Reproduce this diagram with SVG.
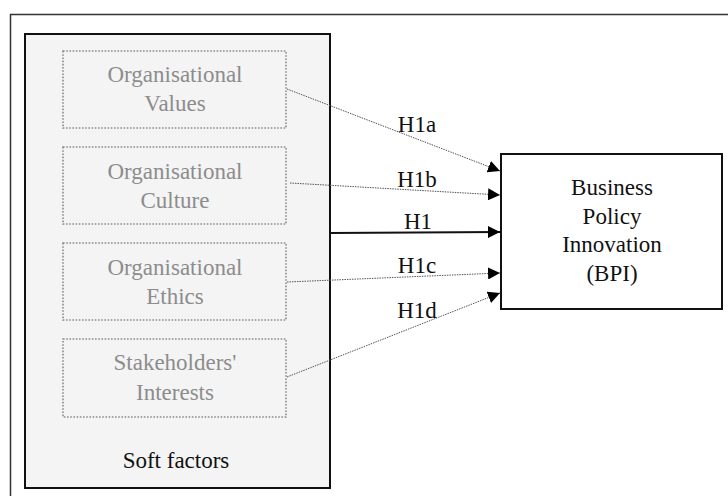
<svg xmlns="http://www.w3.org/2000/svg" width="728" height="496" viewBox="0 0 728 496">
<defs>
<style>
.dot{fill:none;stroke:#8a8a8a;stroke-width:1.6;stroke-dasharray:1.6,1.6}
.con{fill:none;stroke:#555;stroke-width:1;stroke-dasharray:1.5,1}
</style>
<marker id="ah" viewBox="0 0 10 10" refX="10" refY="5" markerWidth="12" markerHeight="12" markerUnits="userSpaceOnUse" orient="auto">
<path d="M0,0 L10,5 L0,10 z" fill="#000"/>
</marker>
</defs>
<rect width="728" height="496" fill="#fff"/>
<rect x="10.5" y="14.5" width="730" height="500" fill="none" stroke="#333" stroke-width="1.5"/>
<g id="soft-factors">
<rect x="25" y="34" width="305" height="454" fill="#f4f4f4" stroke="#111" stroke-width="2"/>
<text x="176" y="468" font-family="Liberation Serif, serif" font-size="23" text-anchor="middle" fill="#111">Soft factors</text>
</g>
<g id="values">
<rect class="dot" x="63" y="51" width="223" height="77"/>
<text x="175" y="82" font-family="Liberation Serif, serif" font-size="23" text-anchor="middle" fill="#8c8c8c">Organisational</text>
<text x="175" y="111" font-family="Liberation Serif, serif" font-size="23" text-anchor="middle" fill="#8c8c8c">Values</text>
</g>
<g id="culture">
<rect class="dot" x="63" y="147" width="223" height="77"/>
<text x="175" y="179" font-family="Liberation Serif, serif" font-size="23" text-anchor="middle" fill="#8c8c8c">Organisational</text>
<text x="175" y="208" font-family="Liberation Serif, serif" font-size="23" text-anchor="middle" fill="#8c8c8c">Culture</text>
</g>
<g id="ethics">
<rect class="dot" x="63" y="243" width="223" height="77"/>
<text x="175" y="275" font-family="Liberation Serif, serif" font-size="23" text-anchor="middle" fill="#8c8c8c">Organisational</text>
<text x="175" y="304" font-family="Liberation Serif, serif" font-size="23" text-anchor="middle" fill="#8c8c8c">Ethics</text>
</g>
<g id="stakeholders">
<rect class="dot" x="63" y="339" width="223" height="78"/>
<text x="175" y="370" font-family="Liberation Serif, serif" font-size="23" text-anchor="middle" fill="#8c8c8c">Stakeholders'</text>
<text x="175" y="400" font-family="Liberation Serif, serif" font-size="23" text-anchor="middle" fill="#8c8c8c">Interests</text>
</g>
<g id="bpi">
<rect x="501" y="154" width="221" height="155" fill="#fff" stroke="#111" stroke-width="2"/>
<text x="612" y="195" font-family="Liberation Serif, serif" font-size="23" text-anchor="middle" fill="#111">Business</text>
<text x="612" y="224" font-family="Liberation Serif, serif" font-size="23" text-anchor="middle" fill="#111">Policy</text>
<text x="612" y="252" font-family="Liberation Serif, serif" font-size="23" text-anchor="middle" fill="#111">Innovation</text>
<text x="612" y="281" font-family="Liberation Serif, serif" font-size="23" text-anchor="middle" fill="#111">(BPI)</text>
</g>
<g id="connectors">
<line class="con" x1="287" y1="89" x2="500" y2="171" marker-end="url(#ah)"/>
<line class="con" x1="290" y1="183" x2="500" y2="195" marker-end="url(#ah)"/>
<line x1="330" y1="233" x2="500" y2="232" stroke="#111" stroke-width="2" marker-end="url(#ah)"/>
<line class="con" x1="287" y1="282" x2="500" y2="273" marker-end="url(#ah)"/>
<line class="con" x1="287" y1="377" x2="500" y2="293" marker-end="url(#ah)"/>
<text x="417" y="132" font-family="Liberation Serif, serif" font-size="23" text-anchor="middle" fill="#111">H1a</text>
<text x="417" y="187" font-family="Liberation Serif, serif" font-size="23" text-anchor="middle" fill="#111">H1b</text>
<text x="418" y="229" font-family="Liberation Serif, serif" font-size="23" text-anchor="middle" fill="#111">H1</text>
<text x="417" y="273" font-family="Liberation Serif, serif" font-size="23" text-anchor="middle" fill="#111">H1c</text>
<text x="417" y="318" font-family="Liberation Serif, serif" font-size="23" text-anchor="middle" fill="#111">H1d</text>
</g>
</svg>
